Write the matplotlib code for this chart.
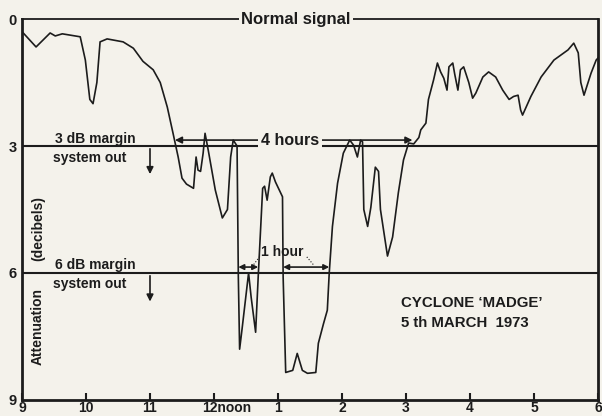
import matplotlib.pyplot as plt
from matplotlib.transforms import ScaledTranslation

# signal trace (clock hours, attenuation dB)
hours = [9.02, 9.22, 9.44, 9.52, 9.63, 9.91, 9.99, 10.06, 10.11, 10.17, 10.22, 10.33,
         10.58, 10.74, 10.89, 11.05, 11.16, 11.27, 11.36, 11.44, 11.50, 11.57, 11.68,
         11.72, 11.75, 11.79, 11.83, 11.86, 11.91, 12.02, 12.13, 12.21, 12.26, 12.30,
         12.36, 12.38, 12.40, 12.44, 12.54, 12.58, 12.65, 12.69, 12.76, 12.79, 12.83,
         12.88, 12.91, 12.96, 13.07, 13.08, 13.12, 13.23, 13.30, 13.38, 13.46, 13.59,
         13.63, 13.71, 13.77, 13.80, 13.85, 13.93, 14.02, 14.12, 14.18, 14.24, 14.29,
         14.32, 14.34, 14.40, 14.45, 14.52, 14.57, 14.60, 14.71, 14.79, 14.88, 14.96,
         15.04, 15.12, 15.20, 15.23, 15.31, 15.35, 15.43, 15.49, 15.54, 15.59, 15.64,
         15.67, 15.73, 15.76, 15.81, 15.85, 15.90, 15.98, 16.04, 16.09, 16.20, 16.29,
         16.40, 16.51, 16.61, 16.68, 16.75, 16.79, 16.82, 16.95, 17.11, 17.31, 17.53,
         17.62, 17.69, 17.73, 17.78, 17.89, 17.97, 18.0]
atten = [0.33, 0.66, 0.33, 0.40, 0.35, 0.42, 0.97, 1.9, 2.0, 1.5, 0.54, 0.47,
         0.54, 0.69, 1.0, 1.2, 1.5, 2.08, 2.7, 3.26, 3.76, 3.9, 4.0,
         3.26, 3.57, 3.6, 3.17, 2.7, 3.1, 4.04, 4.7, 4.5, 3.26, 2.86,
         3.0, 6.1, 7.8, 7.3, 6.0, 6.57, 7.4, 6.1, 4.0, 3.95, 4.28,
         3.73, 3.64, 3.85, 4.2, 6.1, 8.35, 8.3, 7.9, 8.3, 8.37, 8.35,
         7.66, 7.2, 6.88, 6.0, 4.9, 3.88, 3.17, 2.86, 2.98, 3.26, 2.86,
         2.9, 4.5, 4.9, 4.45, 3.5, 3.6, 4.5, 5.6, 5.15, 4.1, 3.33,
         2.93, 2.95, 2.8, 2.62, 2.46, 1.9, 1.44, 1.04, 1.25, 1.4, 1.68,
         1.13, 1.04, 1.3, 1.68, 1.2, 1.13, 1.5, 1.87, 1.75, 1.37, 1.25,
         1.37, 1.68, 1.9, 1.83, 1.8, 2.15, 2.27, 1.83, 1.37, 0.97, 0.73,
         0.57, 0.8, 1.5, 1.8, 1.28, 0.97, 0.92]

xticks = [9, 10, 11, 12, 13, 14, 15, 16, 17, 18]
xlabels = ['9', '10', '11', '12noon', '1', '2', '3', '4', '5', '6']
yticks = [0, 3, 6, 9]
margins = [3, 6]

bg = '#f4f2eb'
ink = '#1c1c1c'
plt.rcParams['font.family'] = ['Liberation Sans', 'DejaVu Sans']
plt.rcParams['font.weight'] = 'bold'

fig = plt.figure(figsize=(6.02, 4.16), dpi=100, facecolor=bg)
ax = fig.add_axes([0.0365, 0.0385, 0.957, 0.9158], facecolor=bg)

ax.plot(hours, atten, color=ink, lw=1.2)
for m in margins:
    ax.axhline(m, color=ink, lw=1.5)

ax.set_xlim(9, 18)
ax.set_ylim(9, 0)
ax.set_xticks(xticks)
ax.set_xticklabels(xlabels)
ax.set_yticks(yticks)
ax.tick_params(axis='x', direction='in', length=5, width=1.5, pad=1, labelsize=10, colors=ink)
ax.tick_params(axis='y', length=0, pad=4, labelsize=10.5, colors=ink)
# "12noon": the 12 sits on the tick, "noon" trails to the right
noon = ax.get_xticklabels()[3]
noon.set_ha('left')
noon.set_transform(noon.get_transform() + ScaledTranslation(-0.12, 0, fig.dpi_scale_trans))
for side in ['left', 'bottom', 'right']:
    ax.spines[side].set_linewidth(2)
    ax.spines[side].set_color(ink)
ax.spines['top'].set_linewidth(1.3)
ax.spines['top'].set_color(ink)

# labels
ax.text(13.28, 0, 'Normal signal', ha='center', va='center', fontsize=12, color=ink,
        bbox=dict(facecolor=bg, edgecolor='none', pad=1.5), clip_on=False, zorder=5)
ax.text(9.25, 7.26, 'Attenuation', rotation=90, ha='center', va='center', fontsize=10, color=ink)
ax.text(9.25, 4.94, '(decibels)', rotation=90, ha='center', va='center', fontsize=10, color=ink)

ax.text(9.52, 2.84, '3 dB margin', ha='left', va='center', fontsize=10, color=ink)
ax.text(9.49, 3.29, 'system out', ha='left', va='center', fontsize=10, color=ink)
ax.annotate('', xy=(11.0, 3.73), xytext=(11.0, 3.0),
            arrowprops=dict(arrowstyle='-|>', color=ink, lw=1.2, mutation_scale=10))
ax.text(9.52, 5.82, '6 dB margin', ha='left', va='center', fontsize=10, color=ink)
ax.text(9.49, 6.26, 'system out', ha='left', va='center', fontsize=10, color=ink)
ax.annotate('', xy=(11.0, 6.74), xytext=(11.0, 6.0),
            arrowprops=dict(arrowstyle='-|>', color=ink, lw=1.2, mutation_scale=10))

# 4 hours span
ax.annotate('', xy=(11.39, 2.86), xytext=(15.10, 2.86),
            arrowprops=dict(arrowstyle='<|-|>', color=ink, lw=1.2, mutation_scale=10,
                            shrinkA=0, shrinkB=0))
ax.text(13.19, 2.86, '4 hours', ha='center', va='center', fontsize=11.5, color=ink,
        bbox=dict(facecolor=bg, edgecolor='none', pad=2))

# 1 hour spans
ax.annotate('', xy=(12.38, 5.86), xytext=(12.69, 5.86),
            arrowprops=dict(arrowstyle='<|-|>', color=ink, lw=1.2, mutation_scale=8,
                            shrinkA=0, shrinkB=0))
ax.annotate('', xy=(13.08, 5.86), xytext=(13.80, 5.86),
            arrowprops=dict(arrowstyle='<|-|>', color=ink, lw=1.2, mutation_scale=8,
                            shrinkA=0, shrinkB=0))
ax.text(13.07, 5.5, '1 hour', ha='center', va='center', fontsize=10, color=ink)
ax.plot([12.62, 12.72], [5.8, 5.6], color=ink, lw=0.8, ls=':')
ax.plot([13.45, 13.55], [5.62, 5.8], color=ink, lw=0.8, ls=':')

ax.text(14.92, 6.71, "CYCLONE \u2018MADGE\u2019", ha='left', va='center', fontsize=10.8, color=ink)
ax.text(14.92, 7.19, '5 th MARCH  1973', ha='left', va='center', fontsize=10.8, color=ink)

fig.savefig('out.png', dpi=100, facecolor=bg)
